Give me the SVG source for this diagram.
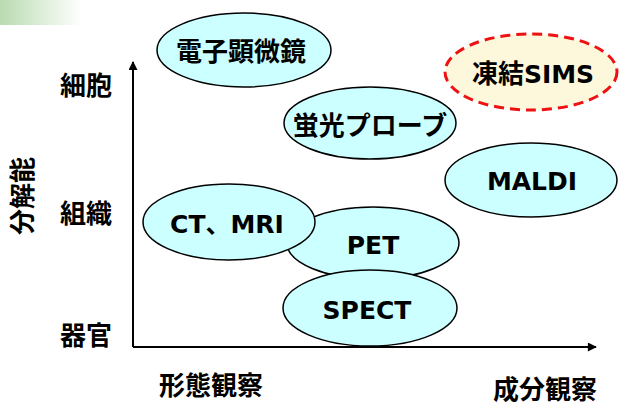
<svg xmlns="http://www.w3.org/2000/svg" width="619" height="405" viewBox="0 0 619 405">
<defs>
<linearGradient id="g" x1="0" y1="0" x2="1" y2="0">
<stop offset="0" stop-color="#b9dbb1"/>
<stop offset="1" stop-color="#ffffff"/>
</linearGradient>
<marker id="arr" viewBox="0 0 10 10" refX="9" refY="5" markerWidth="10" markerHeight="9" markerUnits="userSpaceOnUse" orient="auto">
<path d="M0,0 L10,5 L0,10 z" fill="#000"/>
</marker>
<style>
.n{fill:#ccffff;stroke:#000;stroke-width:1.5}
.s{fill:#fdf8dc;stroke:#ee1111;stroke-width:3;stroke-dasharray:10 6}
text{font-family:"DejaVu Sans","Noto Sans CJK JP",sans-serif;font-weight:bold;font-size:25px;fill:#000;text-anchor:middle}
.j{font-size:26px}
</style>
</defs>
<rect x="0" y="0" width="82" height="25" fill="url(#g)"/>
<g id="axes">
<path d="M133,347 L133,62" stroke="#000" stroke-width="2" fill="none" marker-end="url(#arr)"/>
<path d="M133,347 L596,347" stroke="#000" stroke-width="2" fill="none" marker-end="url(#arr)"/>
</g>
<g id="labels">
<text class="j" x="86" y="95">細胞</text>
<text class="j" x="86" y="223">組織</text>
<text class="j" x="86" y="345">器官</text>
<text class="j" transform="translate(32,196) rotate(-90)" x="0" y="0">分解能</text>
<text class="j" x="211" y="395">形態観察</text>
<text class="j" x="545" y="399">成分観察</text>
</g>
<g id="n-em"><ellipse class="n" cx="244" cy="50" rx="87" ry="37"/><text class="j" x="241" y="61">電子顕微鏡</text></g>
<g id="n-probe"><ellipse class="n" cx="370" cy="123" rx="86" ry="36"/><text class="j" x="370" y="135">蛍光プローブ</text></g>
<g id="n-sims"><ellipse class="s" cx="531" cy="72" rx="86" ry="38"/><text x="533" y="83"><tspan font-size="26">凍結</tspan>SIMS</text></g>
<g id="n-maldi"><ellipse class="n" cx="531" cy="180" rx="86" ry="37"/><text x="532" y="190">MALDI</text></g>
<g id="n-pet"><ellipse class="n" cx="373" cy="243" rx="86" ry="36"/><text x="373" y="254">PET</text></g>
<g id="n-ct"><ellipse class="n" cx="229" cy="222" rx="86" ry="38"/><text x="227" y="233">CT、MRI</text></g>
<g id="n-spect"><ellipse class="n" cx="370" cy="308" rx="87" ry="38"/><text x="367" y="319">SPECT</text></g>
</svg>
